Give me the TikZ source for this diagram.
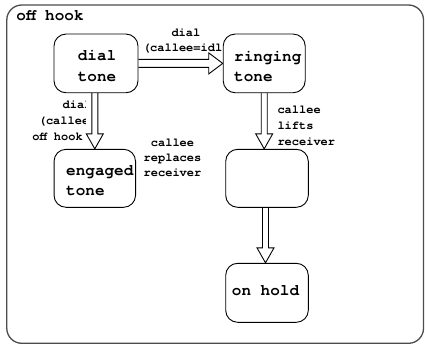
\documentclass[tikz,border=0pt]{standalone}
\usepackage{fontspec}
\setmonofont{TeX Gyre Cursor}
\pgfdeclarelayer{bg}
\pgfsetlayers{bg,main}
\begin{document}
\begin{tikzpicture}[x=1pt,y=-1pt,
  box/.style={draw=black, line width=0.9pt, rounded corners=12pt, fill=white, inner sep=0pt},
  btxt/.style={font=\fontsize{16}{19}\ttfamily\bfseries, inner sep=0pt},
  ltxt/.style={font=\fontsize{12}{15}\ttfamily\bfseries, inner sep=0pt},
  frame/.style={draw=black!70, line width=1.3pt, rounded corners=15pt},
  harr/.style={draw=black, line width=0.9pt, fill=white, to path={
    ([yshift=4pt]\tikztostart) -- ([xshift=-14pt,yshift=4pt]\tikztotarget)
    -- ([xshift=-14pt,yshift=10.5pt]\tikztotarget) -- (\tikztotarget)
    -- ([xshift=-14pt,yshift=-10.5pt]\tikztotarget) -- ([xshift=-14pt,yshift=-4pt]\tikztotarget)
    -- ([yshift=-4pt]\tikztostart)}},
  varr/.style={draw=black, line width=0.9pt, fill=white, to path={
    ([xshift=3pt]\tikztostart) -- ([xshift=3pt,yshift=15pt]\tikztotarget)
    -- ([xshift=8.5pt,yshift=15pt]\tikztotarget) -- (\tikztotarget)
    -- ([xshift=-8.5pt,yshift=15pt]\tikztotarget) -- ([xshift=-3pt,yshift=15pt]\tikztotarget)
    -- ([xshift=-3pt]\tikztostart)}}
]
\useasboundingbox (0,0) rectangle (425,345);

% state boxes
\node[box, minimum width=84pt, minimum height=58.7pt] (dial) at (96,63.4) {};
\node[box, minimum width=82pt, minimum height=58.7pt] (ring) at (264.2,63.4) {};
\node[box, minimum width=81.5pt, minimum height=58pt] (eng) at (94.8,178.3) {};
\node[box, minimum width=82.6pt, minimum height=58pt] (mid) at (267,178.3) {};
\node[box, minimum width=82.6pt, minimum height=59pt] (hold) at (267,292.8) {};

% box texts
\node[btxt, anchor=base] (dialA) at (97,60.7) {dial};
\node[btxt, anchor=base] (dialB) at (97,81) {tone};
\node[btxt, anchor=base west] (ringA) at (234,61.5) {ringing};
\node[btxt, anchor=base west] (ringB) at (234,81.5) {tone};
\node[btxt, anchor=base west] (engA) at (66,175.5) {engaged};
\node[btxt, anchor=base west] (engB) at (66,195.5) {tone};
\node[btxt, anchor=base] (holdA) at (265.5,295) {on hold};

% frame title (cut off as in the reference)
\begin{scope}
\clip (0,0) rectangle (85,30);
\node[btxt, anchor=base west] (offhook) at (16.2,21) {off hook};
\end{scope}

% transition labels
\node[ltxt, anchor=base west] (l2a) at (171.3,36.5) {dial};
\node[ltxt, anchor=base west] (l2b) at (142.8,51.8) {(callee=idl};

\begin{scope}
\clip (0,95) rectangle (85.5,150);
\node[ltxt, anchor=base west] (l1a) at (62.4,108.5) {dial};
\node[ltxt, anchor=base west] (l1b) at (38.6,124.3) {(callee};
\node[ltxt, anchor=base west] (l1c) at (32.2,140) {off hook};
\end{scope}

\node[ltxt, anchor=base] (l3a) at (172.5,146) {callee};
\node[ltxt, anchor=base] (l3b) at (172.5,161) {replaces};
\node[ltxt, anchor=base] (l3c) at (172.5,176) {receiver};

\node[ltxt, anchor=base west] (l4a) at (277.3,113.5) {callee};
\node[ltxt, anchor=base west] (l4b) at (277.3,129.2) {lifts};
\node[ltxt, anchor=base west] (l4c) at (277.3,145) {receiver};

\begin{pgfonlayer}{bg}
\draw[frame] (6.8,5) rectangle (423.5,343.3);
\draw[harr] (dial.east) to (ring.west);
\coordinate (s1) at (eng.north |- dial.south);
\draw[varr] (s1) to (eng.north);
\coordinate (e2) at (ring.south |- mid.north);
\draw[varr] (ring.south) to (e2);
\coordinate (s3) at ([xshift=-1.5pt]mid.south);
\coordinate (e3) at ([xshift=-1.5pt]hold.north);
\draw[varr] (s3) to (e3);
\end{pgfonlayer}
\end{tikzpicture}
\end{document}
